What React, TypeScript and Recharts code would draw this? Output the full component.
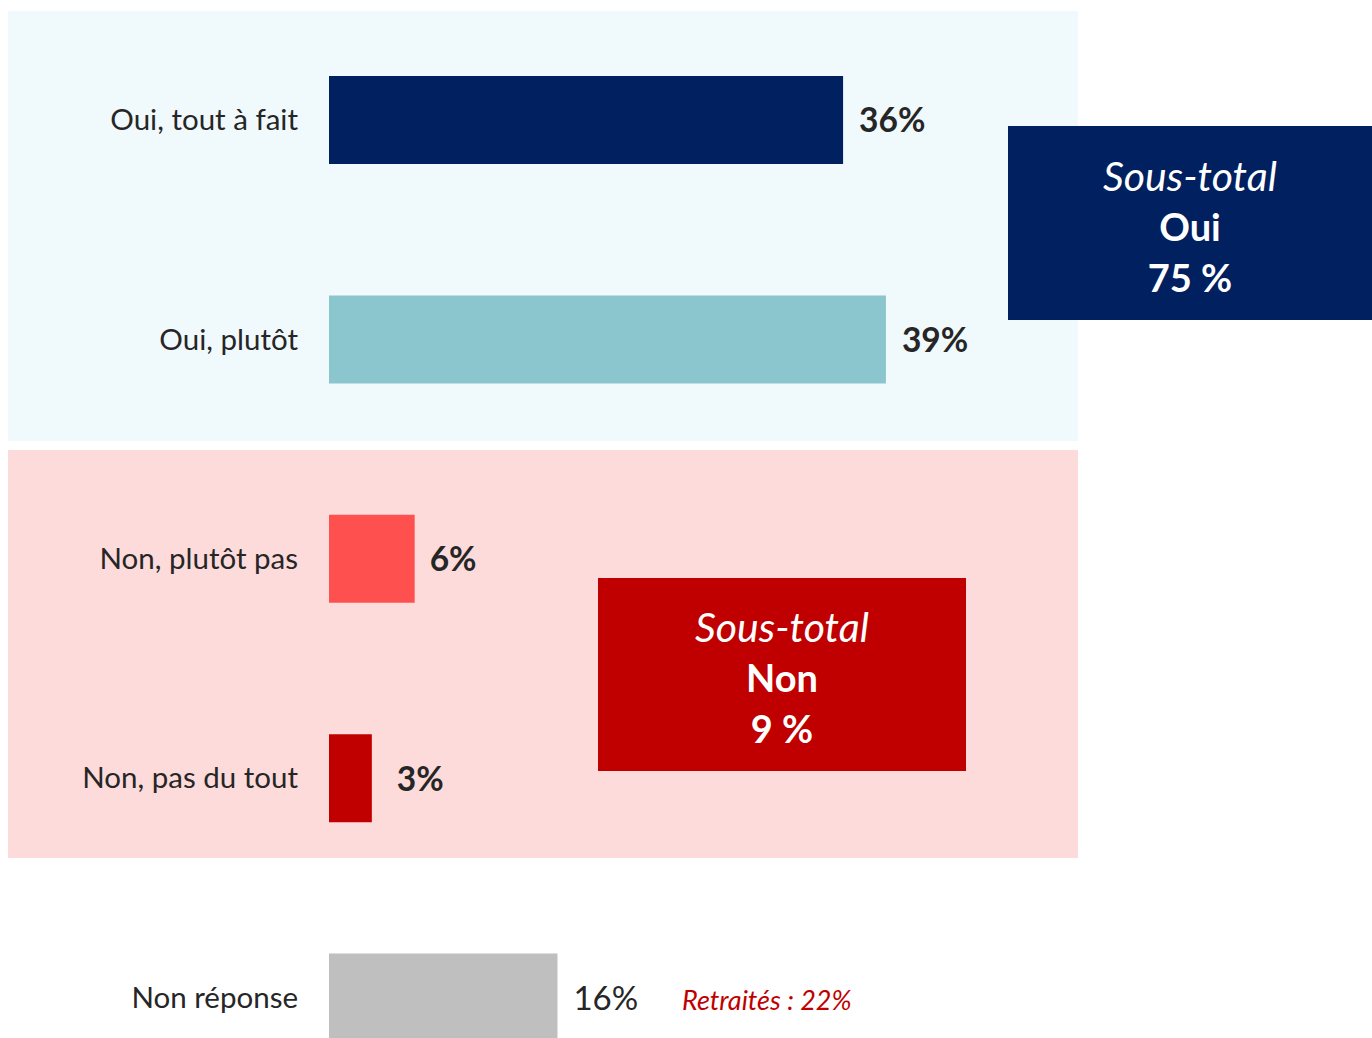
import { BarChart, Bar, XAxis, YAxis, Cell, LabelList } from 'recharts'

const categories = ['Oui, tout à fait', 'Oui, plutôt', 'Non, plutôt pas', 'Non, pas du tout', 'Non réponse']
const values = [36, 39, 6, 3, 16]
const barColors = ['#002060', '#8BC5CD', '#FF5050', '#C00000', '#BFBFBF']
const boldValue = [true, true, true, true, false]

const subtotalTitles = ['Oui', 'Non']
const subtotalValues = [75, 9]
const retraites = 22

const FONT = 'Lato, sans-serif'
const TEXT = '#262626'

// écart entre la fin de la barre et l'étiquette (le 3% est un peu plus décalé dans l'original)
const labelGaps = [16, 16, 15, 25, 16]

const data = categories.map((name, i) => ({ name, value: values[i] }))

function ValueLabel(props: any) {
  const { x, y, width, height, value, index } = props
  const bold = boldValue[index]
  return (
    <text
      x={x + width + labelGaps[index]}
      y={y + height / 2}
      dy="0.37em"
      fontFamily={FONT}
      fontSize={bold ? 33.5 : 33}
      fontWeight={bold ? 700 : 400}
      fill={TEXT}
    >
      {value}%
    </text>
  )
}

function SubtotalBox({ title, value, style }: { title: string; value: number; style: React.CSSProperties }) {
  return (
    <div
      style={{
        position: 'absolute',
        boxSizing: 'border-box',
        paddingTop: 6,
        display: 'flex',
        flexDirection: 'column',
        alignItems: 'center',
        justifyContent: 'center',
        color: '#fff',
        fontFamily: FONT,
        fontSize: 38,
        lineHeight: '51px',
        ...style,
      }}
    >
      <span style={{ fontStyle: 'italic', fontSize: 41 }}>Sous-total</span>
      <span style={{ fontWeight: 700 }}>{title}</span>
      <span style={{ fontWeight: 700 }}>{value} %</span>
    </div>
  )
}

export default function App() {
  return (
    <div style={{ position: 'absolute', left: 0, top: 0, width: 1372, height: 1038, overflow: 'hidden', background: '#fff' }}>
      {/* panneaux de fond */}
      <div style={{ position: 'absolute', left: 8, top: 11, width: 1070, height: 430, background: '#F0F9FC' }} />
      <div style={{ position: 'absolute', left: 8, top: 450, width: 1070, height: 408, background: '#FDDBDB' }} />

      <div style={{ position: 'absolute', left: 0, top: 0 }}>
        <BarChart
          width={1372}
          height={1107}
          data={data}
          layout="vertical"
          margin={{ top: 10, right: 329, bottom: 0, left: 0 }}
        >
          <XAxis type="number" domain={[0, 50]} hide />
          <YAxis
            type="category"
            dataKey="name"
            width={329}
            axisLine={false}
            tickLine={false}
            tickSize={0}
            tickMargin={31}
            tick={{ fontFamily: FONT, fontSize: 29.5, fill: TEXT }}
          />
          <Bar dataKey="value" barSize={88} isAnimationActive={false}>
            {data.map((d, i) => (
              <Cell key={d.name} fill={barColors[i]} />
            ))}
            <LabelList dataKey="value" content={ValueLabel} />
          </Bar>
        </BarChart>
      </div>

      <SubtotalBox title={subtotalTitles[0]} value={subtotalValues[0]} style={{ left: 1008, top: 126, width: 364, height: 194, background: '#002060' }} />
      <SubtotalBox title={subtotalTitles[1]} value={subtotalValues[1]} style={{ left: 598, top: 578, width: 368, height: 193, background: '#C00000' }} />

      <div
        style={{
          position: 'absolute',
          left: 682,
          top: 982,
          fontFamily: FONT,
          fontStyle: 'italic',
          fontSize: 27,
          lineHeight: '36px',
          color: '#C00000',
        }}
      >
        Retraités : {retraites}%
      </div>
    </div>
  )
}
